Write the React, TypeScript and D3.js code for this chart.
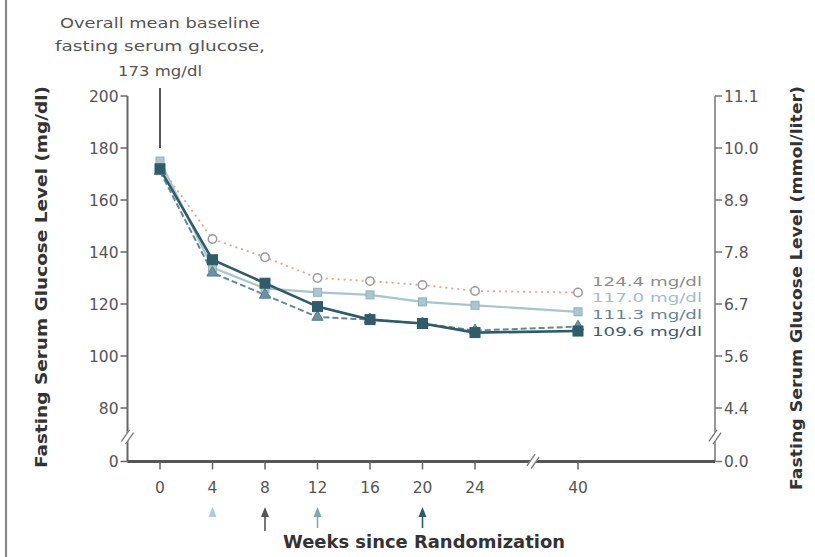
import React from "react";
import * as d3 from "d3";

const weeks = [0, 4, 8, 12, 16, 20, 24, 40];
const seriesA = [173, 145, 138, 130, 128.8, 127.3, 125, 124.4];
const seriesB = [175, 134, 126, 124.5, 123.5, 120.8, 119.5, 117.0];
const seriesC = [171, 132, 123.5, 115, 114, 112.5, 109.8, 111.3];
const seriesD = [172, 137, 128, 119, 114, 112.5, 109, 109.6];
const endLabels = ["124.4 mg/dl", "117.0 mg/dl", "111.3 mg/dl", "109.6 mg/dl"];
const leftTicks = [0, 80, 100, 120, 140, 160, 180, 200];
const rightTickLabels = ["0.0", "4.4", "5.6", "6.7", "7.8", "8.9", "10.0", "11.1"];
const xTicks = [0, 4, 8, 12, 16, 20, 24, 40];
const arrowWeeks = [4, 8, 12, 20];
const annotation = ["Overall mean baseline", "fasting serum glucose,", "173 mg/dl"];

const FONT = "DejaVu Sans, sans-serif";

export default function App() {
  const x = d3.scaleLinear().domain([0, 24, 40]).range([160, 475, 578]);
  const y = d3.scaleLinear().domain([0, 80, 200]).range([461.5, 408, 96]);
  const axL = 127.5, axR = 715, axB = 461.5;

  const styles = [
    { data: seriesA, stroke: "#e6a488", width: 1.8, dash: "2,4", marker: "circle", mfill: "#fff", mstroke: "#9a9a9a", label: "#8c8c8c" },
    { data: seriesB, stroke: "#a6c6cd", width: 2.2, dash: null, marker: "square", mfill: "#a9c7ce", mstroke: "#8fb3bc", label: "#a7bcc3" },
    { data: seriesC, stroke: "#5e8a99", width: 2, dash: "6,3", marker: "triangle", mfill: "#6a92a0", mstroke: "#557f8e", label: "#6a8592" },
    { data: seriesD, stroke: "#2f5c6b", width: 2.6, dash: null, marker: "squareD", mfill: "#2f5c6b", mstroke: "#2f5c6b", label: "#3f5c6c" },
  ];

  const line = (data: number[]) =>
    d3.line<number>().x((_, i) => x(weeks[i])).y((d) => y(d))(data) || "";

  const labelY = [286, 302, 319, 336];

  const marker = (type: string, cx: number, cy: number, fill: string, stroke: string, key: string) => {
    if (type === "circle")
      return <circle key={key} cx={cx} cy={cy} r={4.2} fill={fill} stroke={stroke} strokeWidth={1.5} />;
    if (type === "square")
      return <rect key={key} x={cx - 4} y={cy - 4} width={8} height={8} fill={fill} stroke={stroke} strokeWidth={1} />;
    if (type === "triangle") {
      const p = d3.symbol().type(d3.symbolTriangle).size(55)();
      return <path key={key} d={p || ""} transform={`translate(${cx},${cy})`} fill={fill} stroke={stroke} strokeWidth={1} />;
    }
    return <rect key={key} x={cx - 5} y={cy - 5} width={10} height={10} fill={fill} stroke={stroke} strokeWidth={1} />;
  };

  const brk = (cx: number, cy: number, key: string) => (
    <g key={key} transform={`translate(${cx},${cy}) rotate(-55)`}>
      <rect x={-8} y={-3} width={16} height={6} fill="#fff" />
      <line x1={-7} y1={-2.5} x2={7} y2={-2.5} stroke="#777" strokeWidth={1.3} />
      <line x1={-7} y1={2.5} x2={7} y2={2.5} stroke="#777" strokeWidth={1.3} />
    </g>
  );

  const arrowColors = ["#a9cdd8", "#555555", "#7ea7b6", "#2f5c6b"];
  const annLen = [200, 210, 84];

  return (
    <svg width={815} height={557} style={{ position: "absolute", left: 0, top: 0, background: "#fff" }} fontFamily={FONT}>
      <rect x={0} y={0} width={815} height={557} fill="#fff" />
      <line x1={6} y1={0} x2={6} y2={557} stroke="#888" strokeWidth={2.2} />

      {/* annotation */}
      {annotation.map((t, i) => (
        <text key={t} x={160} y={[28, 51, 76][i]} textAnchor="middle" fontSize={14.5} fill="#555" textLength={annLen[i]} lengthAdjust="spacingAndGlyphs">{t}</text>
      ))}
      <line x1={x(0)} y1={88} x2={x(0)} y2={y(180)} stroke="#555" strokeWidth={2} />

      {/* left axis */}
      <line x1={axL} y1={y(200)} x2={axL} y2={axB} stroke="#666" strokeWidth={2} />
      {leftTicks.map((t) => (
        <g key={"l" + t}>
          <line x1={axL - 7} x2={axL} y1={y(t)} y2={y(t)} stroke="#666" strokeWidth={1.5} />
          <text x={axL - 9} y={y(t) + 5.5} textAnchor="end" fontSize={15.5} fill="#555">{t}</text>
        </g>
      ))}
      {/* right axis */}
      <line x1={axR} y1={y(200)} x2={axR} y2={axB} stroke="#777" strokeWidth={1.5} />
      {leftTicks.map((t, i) => (
        <g key={"r" + t}>
          <line x1={axR} x2={axR + 7} y1={y(t)} y2={y(t)} stroke="#777" strokeWidth={1.5} />
          <text x={axR + 9} y={y(t) + 5.5} textAnchor="start" fontSize={15.5} fill="#555">{rightTickLabels[i]}</text>
        </g>
      ))}
      {/* x axis */}
      <line x1={axL} y1={axB} x2={axR} y2={axB} stroke="#555" strokeWidth={2.8} />
      {xTicks.map((t) => (
        <g key={"x" + t}>
          <line x1={x(t)} x2={x(t)} y1={axB} y2={axB + 8} stroke="#666" strokeWidth={1.5} />
          <text x={x(t)} y={493} textAnchor="middle" fontSize={15.5} fill="#555">{t}</text>
        </g>
      ))}
      {brk(axL, 437, "b1")}
      {brk(533, axB, "b2")}
      {brk(axR, 437, "b3")}

      {/* series */}
      {styles.map((s, si) => (
        <path key={"p" + si} d={line(s.data)} fill="none" stroke={s.stroke} strokeWidth={s.width} strokeDasharray={s.dash || undefined} />
      ))}
      {styles.map((s, si) =>
        s.data.map((v, i) => marker(s.marker, x(weeks[i]), y(v), s.mfill, s.mstroke, `m${si}-${i}`))
      )}
      {styles.map((s, si) => (
        <text key={"lab" + si} x={592} y={labelY[si]} fontSize={13} fill={s.label} textLength={110} lengthAdjust="spacingAndGlyphs">{endLabels[si]}</text>
      ))}

      {/* arrows */}
      {arrowWeeks.map((w, i) => {
        const cx = x(w);
        const top = 507;
        const bottom = i === 0 ? 518 : i === 1 ? 531 : 528;
        return (
          <g key={"a" + w}>
            {i > 0 && <line x1={cx} y1={top + 4} x2={cx} y2={bottom} stroke={arrowColors[i]} strokeWidth={1.6} />}
            <path d={`M${cx},${top} L${cx - 4},${top + 10} L${cx + 4},${top + 10} Z`} fill={arrowColors[i]} />
          </g>
        );
      })}

      <text x={424} y={548} textAnchor="middle" fontSize={17} fontWeight="bold" fill="#333" textLength={282} lengthAdjust="spacingAndGlyphs">Weeks since Randomization</text>

      <text transform={`translate(47,277) rotate(-90)`} textAnchor="middle" fontSize={15.5} fontWeight="bold" fill="#333" textLength={382} lengthAdjust="spacingAndGlyphs">Fasting Serum Glucose Level (mg/dl)</text>
      <text transform={`translate(802,288) rotate(-90)`} textAnchor="middle" fontSize={15.5} fontWeight="bold" fill="#333" textLength={404} lengthAdjust="spacingAndGlyphs">Fasting Serum Glucose Level (mmol/liter)</text>
    </svg>
  );
}
